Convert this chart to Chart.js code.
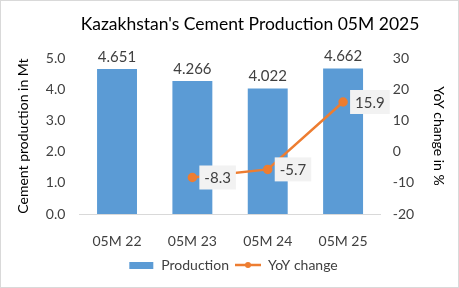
<!DOCTYPE html>
<html>
<head>
<meta charset="utf-8">
<script src="https://cdn.jsdelivr.net/npm/chart.js@4"></script>
<style>
  html, body { margin: 0; padding: 0; background: #fff; }
  #wrap { width: 459px; height: 288px; }
</style>
</head>
<body>
<div id="wrap"><canvas id="chart" width="459" height="288"></canvas></div>
<script>
var categories = ['05M 22', '05M 23', '05M 24', '05M 25'];
var production = [4.651, 4.266, 4.022, 4.662];
var yoyChange = [null, -8.3, -5.7, 15.9];
var prodTicks = [0, 1, 2, 3, 4, 5];
var yoyTicks = [-20, -10, 0, 10, 20, 30];

var FONT = 'Lato, "Open Sans", sans-serif';
var BLUE = '#5B9BD5';
var ORANGE = '#ED7D31';

// legend swatches
function makeSwatch(kind) {
  var c = document.createElement('canvas');
  c.width = 26; c.height = 10;
  var g = c.getContext('2d');
  if (kind === 'bar') {
    g.fillStyle = BLUE;
    g.fillRect(1, 2, 24, 7);
  } else {
    g.strokeStyle = ORANGE;
    g.lineWidth = 2.5;
    g.beginPath(); g.moveTo(0, 5); g.lineTo(26, 5); g.stroke();
    g.fillStyle = ORANGE;
    g.beginPath(); g.arc(13, 5, 3, 0, Math.PI * 2); g.fill();
  }
  return c;
}

var frame = {
  id: 'frame',
  afterLayout: function (chart) {
    // title sits a bit right of centre in the original
    if (chart.titleBlock) {
      chart.titleBlock.left += 17;
      chart.titleBlock.right += 17;
    }
  },
  beforeDraw: function (chart) {
    var ctx = chart.ctx;
    ctx.save();
    ctx.fillStyle = '#fff';
    ctx.fillRect(0, 0, chart.width, chart.height);
    ctx.strokeStyle = '#d9d9d9';
    ctx.lineWidth = 1;
    ctx.strokeRect(0.5, 0.5, chart.width - 1, chart.height - 1);
    ctx.restore();
  },
  afterDatasetsDraw: function (chart) {
    var ctx = chart.ctx;
    ctx.save();
    ctx.font = '15px ' + FONT;
    ctx.textAlign = 'center';
    ctx.textBaseline = 'middle';
    // bar values
    chart.getDatasetMeta(0).data.forEach(function (bar, i) {
      ctx.fillStyle = '#404040';
      ctx.fillText(production[i].toFixed(3), bar.x, bar.y - 12);
    });
    // line values in boxes
    chart.getDatasetMeta(1).data.forEach(function (pt, i) {
      if (yoyChange[i] === null) return;
      var txt = yoyChange[i].toFixed(1);
      var w = ctx.measureText(txt).width + 10;
      var bx = pt.x + 7, by = pt.y - 12;
      ctx.fillStyle = '#F2F2F2';
      ctx.fillRect(bx, by, w, 24);
      ctx.fillStyle = '#404040';
      ctx.fillText(txt, bx + w / 2, by + 13);
    });
    ctx.restore();
  }
};

new Chart(document.getElementById('chart').getContext('2d'), {
  type: 'bar',
  data: {
    labels: categories,
    datasets: [{
      label: 'Production',
      data: production,
      backgroundColor: BLUE,
      yAxisID: 'y',
      barPercentage: 0.53,
      categoryPercentage: 1,
      order: 2
    }, {
      type: 'line',
      label: 'YoY change',
      data: yoyChange,
      borderColor: ORANGE,
      backgroundColor: ORANGE,
      borderWidth: 2.5,
      pointRadius: 3.5,
      pointBackgroundColor: ORANGE,
      yAxisID: 'y1',
      tension: 0,
      fill: false,
      order: 1
    }]
  },
  options: {
    responsive: false,
    animation: false,
    layout: { padding: { left: 15, right: 8, top: 8, bottom: 6 } },
    plugins: {
      title: {
        display: true,
        text: "Kazakhstan's Cement Production 05M 2025",
        color: '#000',
        font: { family: FONT, size: 17.5, weight: 'normal' },
        padding: { top: 6, bottom: 23 }
      },
      legend: {
        position: 'bottom',
        labels: {
          color: '#404040',
          font: { family: FONT, size: 14 },
          usePointStyle: true,
          pointStyleWidth: 26,
          padding: 6,
          generateLabels: function (chart) {
            return [
              { text: 'Production', pointStyle: makeSwatch('bar'), datasetIndex: 0, fontColor: '#404040', lineWidth: 0, strokeStyle: 'transparent' },
              { text: 'YoY change', pointStyle: makeSwatch('line'), datasetIndex: 1, fontColor: '#404040', lineWidth: 0, strokeStyle: 'transparent' }
            ];
          }
        }
      },
      tooltip: { enabled: false }
    },
    scales: {
      x: {
        grid: { display: false, drawTicks: false },
        border: { color: '#d9d9d9' },
        ticks: { color: '#404040', font: { family: FONT, size: 14 }, padding: 19 },
        afterFit: function (scale) { scale.height = 38; }
      },
      y: {
        position: 'left',
        min: 0, max: 5,
        afterBuildTicks: function (axis) { axis.ticks = prodTicks.map(function (v) { return { value: v }; }); },
        grid: { display: false, drawTicks: false },
        border: { display: false },
        ticks: {
          color: '#404040', font: { family: FONT, size: 14 }, padding: 14,
          callback: function (v) { return v.toFixed(1); }
        },
        title: { display: true, text: 'Cement production in Mt', color: '#000', font: { family: FONT, size: 14 }, padding: 0 }
      },
      y1: {
        position: 'right',
        min: -20, max: 30,
        afterBuildTicks: function (axis) { axis.ticks = yoyTicks.map(function (v) { return { value: v }; }); },
        grid: { display: false, drawTicks: false },
        border: { display: false },
        ticks: { color: '#404040', font: { family: FONT, size: 14 }, padding: 12 },
        title: { display: true, text: 'YoY change in %', color: '#000', font: { family: FONT, size: 14 }, padding: 4 }
      }
    }
  },
  plugins: [frame]
});
</script>
</body>
</html>
